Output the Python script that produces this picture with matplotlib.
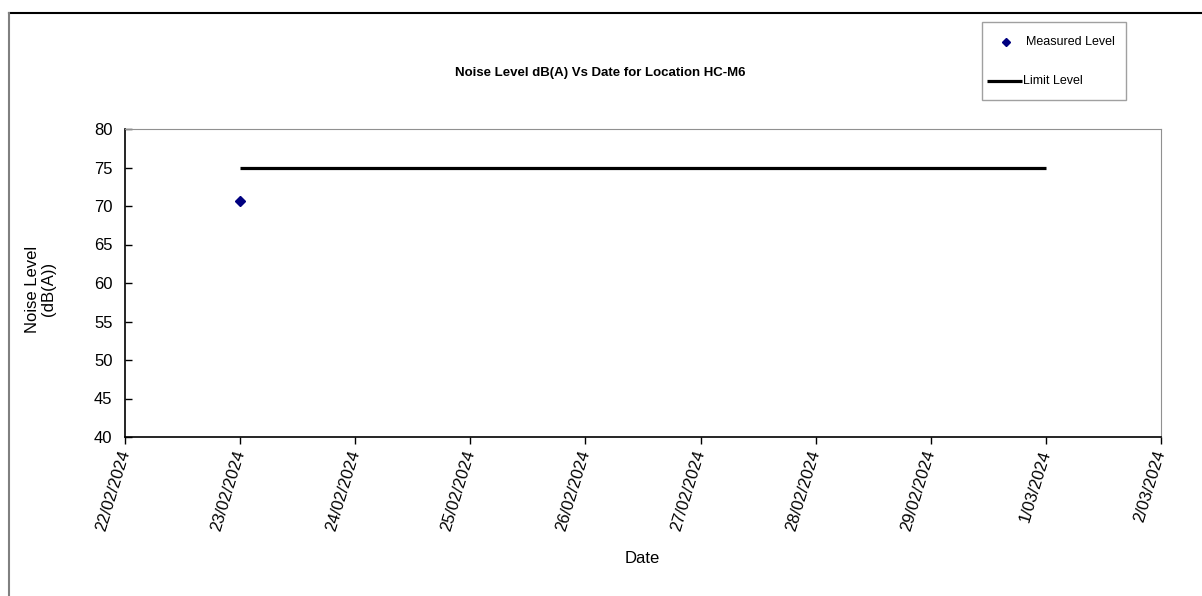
import matplotlib
matplotlib.use("Agg")
import matplotlib.pyplot as plt
from matplotlib.lines import Line2D
from matplotlib.patches import Rectangle
from datetime import datetime

plt.rcParams['font.family'] = ['Liberation Sans', 'DejaVu Sans']

# Data
measured_dates = ["23/02/2024"]
measured_values = [70.6]
limit_dates = ["23/02/2024", "1/03/2024"]
limit_values = [75, 75]
tick_labels = ["22/02/2024", "23/02/2024", "24/02/2024", "25/02/2024", "26/02/2024",
               "27/02/2024", "28/02/2024", "29/02/2024", "1/03/2024", "2/03/2024"]
yticks = [40, 45, 50, 55, 60, 65, 70, 75, 80]
legend_labels = ["Measured Level", "Limit Level"]

def parse(s):
    return datetime.strptime(s, "%d/%m/%Y")

md = [parse(s) for s in measured_dates]
ld = [parse(s) for s in limit_dates]
td = [parse(s) for s in tick_labels]

W, H = 1202, 596
fig = plt.figure(figsize=(W / 100, H / 100), dpi=100)
ax = fig.add_axes([125 / W, 1 - 437 / H, (1161 - 125) / W, (437 - 129) / H])

ax.plot(ld, limit_values, color='black', lw=2.3, solid_capstyle='butt', zorder=2)
ax.plot(md, measured_values, linestyle='none', marker='D', markersize=5.5, color='#000080',
        zorder=3)

ax.set_xlim(td[0], td[-1])
ax.set_ylim(40, 80)
ax.set_yticks(yticks)
ax.set_yticklabels([str(v) for v in yticks])
ax.set_xticks(td)
ax.set_xticklabels(tick_labels, rotation=73, ha='right', va='center', rotation_mode='anchor',
                   fontsize=12)
ax.tick_params(axis='x', direction='out', length=5, width=1, pad=5, colors='black')
ax.tick_params(axis='y', direction='in', length=5, width=1, labelsize=12, pad=9)

ax.spines['left'].set_color('black')
ax.spines['bottom'].set_color('black')
ax.spines['left'].set_linewidth(1.2)
ax.spines['bottom'].set_linewidth(1.2)
ax.spines['top'].set_color('#909090')
ax.spines['right'].set_color('#909090')

ax.set_xlabel('Date', fontsize=12)
ax.xaxis.set_label_coords((642 - 125) / (1161 - 125), -(551 - 437) / (437 - 129))
ax.set_ylabel('Noise Level\n(dB(A))', fontsize=12, linespacing=1.05)
ax.yaxis.set_label_coords(-(125 - 56) / (1161 - 125), 0.5 - 6 / 308)

fig.text(600 / W, 1 - 73 / H, 'Noise Level dB(A) Vs Date for Location HC-M6',
         fontsize=9.5, fontweight='bold', ha='center', va='center')

# Legend (drawn manually to match layout)
fig.add_artist(Rectangle((982 / W, 1 - 100 / H), (1126 - 982) / W, (100 - 22) / H,
                         transform=fig.transFigure, facecolor='white', edgecolor='#a0a0a0',
                         lw=1.0))
fig.add_artist(Line2D([1006 / W], [1 - 42 / H], linestyle='none', marker='D', markersize=4,
                      color='#000080', transform=fig.transFigure))
fig.text(1026 / W, 1 - 42 / H, legend_labels[0], fontsize=9, ha='left', va='center')
fig.add_artist(Line2D([987 / W, 1022 / W], [1 - 81 / H, 1 - 81 / H], color='black', lw=2.3,
                      solid_capstyle='butt', transform=fig.transFigure))
fig.text(1023 / W, 1 - 81 / H, legend_labels[1], fontsize=9, ha='left', va='center')

# Figure border lines
fig.add_artist(Line2D([9 / W, 1.0], [1 - 12.5 / H, 1 - 12.5 / H], color='black', lw=1.5,
                      transform=fig.transFigure))
fig.add_artist(Line2D([9 / W, 9 / W], [0, 1 - 12.5 / H], color='#808080', lw=1.5,
                      transform=fig.transFigure))

fig.savefig('out.png', dpi=100)
